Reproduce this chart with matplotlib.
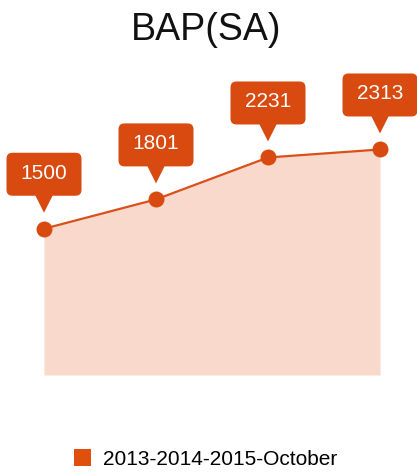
import matplotlib
matplotlib.use("Agg")
import matplotlib.pyplot as plt
from matplotlib.patches import FancyBboxPatch, Polygon, Patch
from matplotlib.transforms import IdentityTransform, ScaledTranslation

plt.rcParams['font.family'] = ['Liberation Sans', 'DejaVu Sans']

title = "BAP(SA)"
series_name = "2013-2014-2015-October"
values = [1500, 1801, 2231, 2313]
labels = ["1500", "1801", "2231", "2313"]

W, H, DPI = 417, 475, 100
fig = plt.figure(figsize=(W / DPI, H / DPI), dpi=DPI)
ax = fig.add_axes([44 / W, 100 / H, 336 / W, 292.5 / H])
ax.set_xlim(0, len(values) - 1)
ax.set_ylim(0, 3000)
ax.axis('off')

box_c = '#d84a0f'
line_c = '#d9501a'
fill_c = '#f8d9cc'

xs = list(range(len(values)))
ax.fill_between(xs, values, 0, color=fill_c, lw=0, zorder=1)
ax.plot(xs, values, color=line_c, lw=1.6, zorder=2)
ax.plot(xs, values, 'o', color=box_c, markersize=11.5, mec='none', zorder=3, clip_on=False)

# callout boxes (pixel offsets relative to each data point)
bw, bh, bgap = 75, 43, 33
for x, v, lab in zip(xs, values, labels):
    tr = IdentityTransform() + ScaledTranslation(x, v, ax.transData)
    box = FancyBboxPatch((-bw / 2, bgap), bw, bh,
                         boxstyle="round,pad=0,rounding_size=6",
                         fc=box_c, ec='none', transform=tr, clip_on=False, zorder=4)
    ax.add_patch(box)
    tri = Polygon([(-9, bgap + 1), (9, bgap + 1), (0, 16)], closed=True,
                  fc=box_c, ec='none', transform=tr, clip_on=False, zorder=4)
    ax.add_patch(tri)
    ax.text(0, bgap + bh / 2 + 1, lab, transform=tr, ha='center', va='center',
            color='white', fontsize=15, zorder=5)

fig.text(206 / W, 1 - 40 / H, title, ha='center', va='baseline', fontsize=27, color='#111111')

handle = Patch(facecolor='#e0500c', edgecolor='none')
fig.legend([handle], [series_name], loc='center', bbox_to_anchor=(205.5 / W, 1 - 459 / H),
           frameon=False, fontsize=15, handlelength=0.85, handleheight=0.85,
           handletextpad=0.55, borderpad=0)

fig.savefig('out.png', dpi=DPI)
